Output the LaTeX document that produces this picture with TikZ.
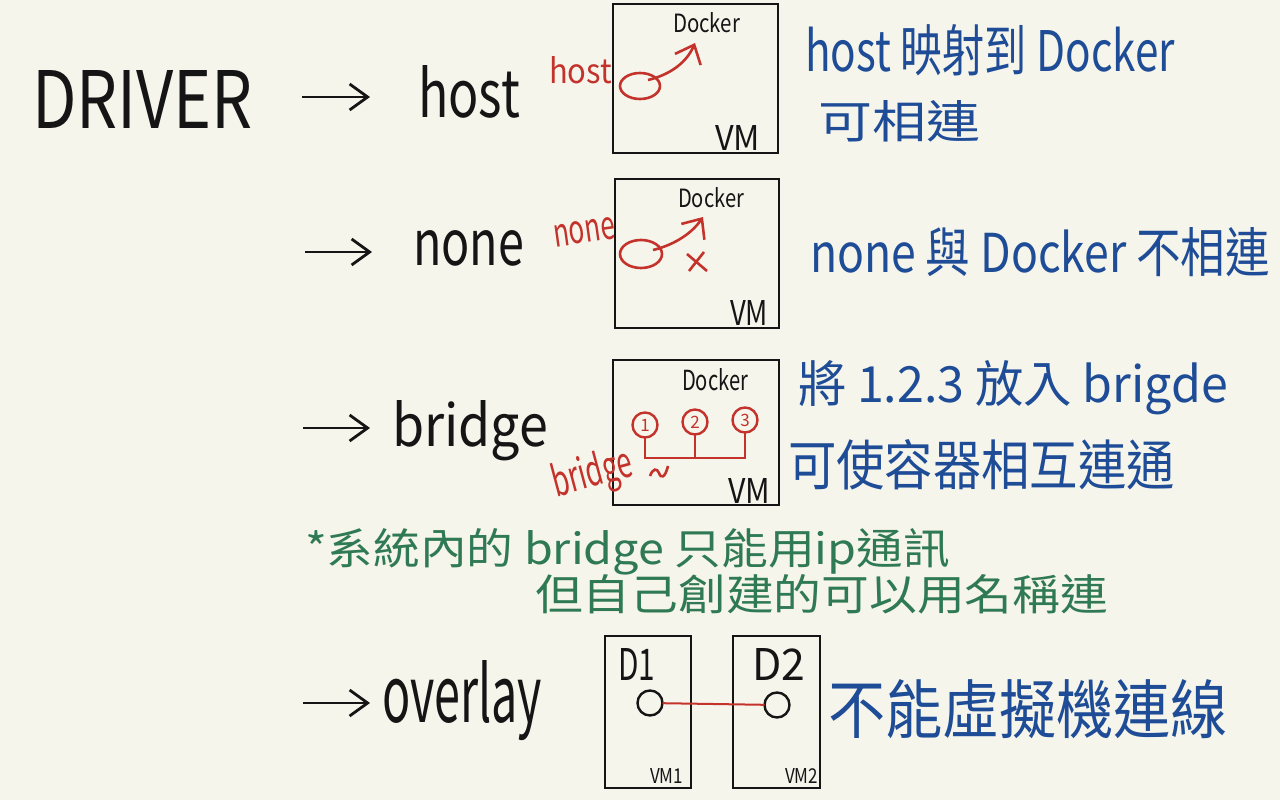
\documentclass[tikz,border=0pt]{standalone}
\usepackage{fontspec}
\usepackage{graphicx}
\setmainfont{Noto Sans CJK TC}
\usetikzlibrary{arrows.meta}
\definecolor{bg}{HTML}{F6F5EC}
\definecolor{ink}{HTML}{151515}
\definecolor{pblue}{HTML}{1E4C96}
\definecolor{pgreen}{HTML}{2F7A55}
\definecolor{pred}{HTML}{C4322C}
\newcommand{\fwh}[3]{\resizebox{#1pt}{#2pt}{\fontsize{40}{48}\selectfont #3}}
\begin{document}
\begin{tikzpicture}[x=1pt,y=-1pt,
  every node/.style={inner sep=0pt, outer sep=0pt, anchor=base west},
  inktxt/.style={text=ink},
  bluetxt/.style={text=pblue},
  greentxt/.style={text=pgreen},
  redtxt/.style={text=pred},
  bigarrow/.style={draw=ink, line width=2.8pt, -{Straight Barb[length=18pt,width=26pt,line width=2.8pt]}},
  vmbox/.style={draw=ink, line width=2.8pt, anchor=north west, minimum width=#1},
  redline/.style={draw=pred, line width=2.6pt},
  redarrow/.style={draw=pred, line width=2.6pt, -{Straight Barb[length=16pt,width=28pt,line width=2.6pt]}},
  num/.style={circle, draw=pred, line width=2.4pt, minimum size=25pt, anchor=center, text=pred, font=\fontsize{17}{17}\selectfont},
  port/.style={circle, draw=ink, line width=2.4pt, minimum size=25pt, anchor=center}
]
\useasboundingbox (0,0) rectangle (1280,800);
\fill[bg] (0,0) rectangle (1280,800);

% left column
\node[inktxt] (driver) at (32,128) {\fwh{221}{58}{DRIVER}};
\coordinate (a1s) at (302,97);  \coordinate (a1e) at (370,97);
\coordinate (a2s) at (305,252); \coordinate (a2e) at (372,252);
\coordinate (a3s) at (303,428); \coordinate (a3e) at (370,428);
\coordinate (a4s) at (303,703); \coordinate (a4e) at (370,703);
\draw[bigarrow] (a1s) -- (a1e);
\draw[bigarrow] (a2s) -- (a2e);
\draw[bigarrow] (a3s) -- (a3e);
\draw[bigarrow] (a4s) -- (a4e);
\node[inktxt] (lhost) at (418,117) {\fwh{102}{52}{host}};
\node[inktxt] (lnone) at (413,265) {\fwh{111}{35}{none}};
\node[inktxt] (lbridge) at (392,446) {\fwh{156}{46}{bridge}};
\node[inktxt] (loverlay) at (382,722) {\fwh{160}{62}{overlay}};

% box 1 : host
\node[vmbox=165pt, minimum height=149pt] (box1) at (613,4) {};
\node[inktxt] (dk1) at (673,33) {\fwh{67}{20}{Docker}};
\node[inktxt] (vm1t) at (715,150) {\fwh{45}{25}{VM}};
\node[redtxt] (rhost) at (549,84) {\fwh{63}{27}{host}};
\draw[redline] (640,86) ellipse [x radius=20, y radius=13];
\coordinate (h1s) at (648,80); \coordinate (h1e) at (695,43);
\draw[redarrow] (h1s) .. controls (665,76) and (685,66) .. (h1e);

% box 2 : none
\node[vmbox=164pt, minimum height=149pt] (box2) at (615,179) {};
\node[inktxt] (dk2) at (678,207) {\fwh{66}{20}{Docker}};
\node[inktxt] (vm2t) at (730,325) {\fwh{38}{25}{VM}};
\node[redtxt, rotate=8] (rnone) at (555,247) {\fwh{62}{22}{none}};
\draw[redline] (641,254) ellipse [x radius=21, y radius=14];
\coordinate (n1s) at (653,250); \coordinate (n1e) at (703,217);
\draw[redarrow] (n1s) .. controls (670,246) and (690,236) .. (n1e);
\draw[redline] (687,254) -- (707,271);
\draw[redline] (689,271) -- (704,252);

% box 3 : bridge
\node[vmbox=166pt, minimum height=145pt] (box3) at (613,360) {};
\node[inktxt] (dk3) at (682,390) {\fwh{66}{22}{Docker}};
\node[inktxt] (vm3t) at (728,503) {\fwh{42}{25}{VM}};
\node[num] (c1) at (645,425) {1};
\node[num] (c2) at (695,422) {2};
\node[num] (c3) at (745,420) {3};
\coordinate (bus) at (0,458);
\draw[redline] (c1.south) -- (c1.south |- bus) -- (c3.south |- bus) -- (c3.south);
\draw[redline] (c2.south) -- (c2.south |- bus);
\node[redtxt, rotate=15] (rbridge) at (556,497) {\fwh{82}{34}{bridge}};
\draw[redline] (650,476) .. controls (653,468) and (657,468) .. (659,473)
  .. controls (661,479) and (665,478) .. (668,466);

% box 4 : overlay
\node[vmbox=86pt, minimum height=152pt] (vmA) at (605,636) {};
\node[vmbox=87pt, minimum height=152pt] (vmB) at (733,636) {};
\node[inktxt] (d1t) at (618,680) {\fwh{37}{32}{D1}};
\node[inktxt] (d2t) at (752,680) {\fwh{53}{32}{D2}};
\node[inktxt] (vmAt) at (650,783) {\fwh{33}{15}{VM1}};
\node[inktxt] (vmBt) at (785,783) {\fwh{33}{15}{VM2}};
\node[port] (p1) at (650,703) {};
\node[port] (p2) at (777,705) {};
\draw[redline, line width=2pt] (p1) -- (p2);

% blue notes
\node[bluetxt] (n1) at (805,72) {\fwh{370}{47}{host 映射到 Docker}};
\node[bluetxt] (n2) at (818,138) {\fwh{162}{38}{可相連}};
\node[bluetxt] (n3) at (810,272) {\fwh{460}{45}{none 與 Docker 不相連}};
\node[bluetxt] (n4) at (798,402) {\fwh{430}{42}{將 1.2.3 放入 brigde}};
\node[bluetxt] (n5) at (788,485) {\fwh{387}{46}{可使容器相互連通}};
\node[bluetxt] (n6) at (828,733) {\fwh{400}{54}{不能虛擬機連線}};

% green notes
\node[greentxt] (g1) at (305,564) {\fwh{645}{36}{*系統內的 bridge 只能用ip通訊}};
\node[greentxt] (g2) at (535,610) {\fwh{573}{36}{但自己創建的可以用名稱連}};
\end{tikzpicture}
\end{document}
